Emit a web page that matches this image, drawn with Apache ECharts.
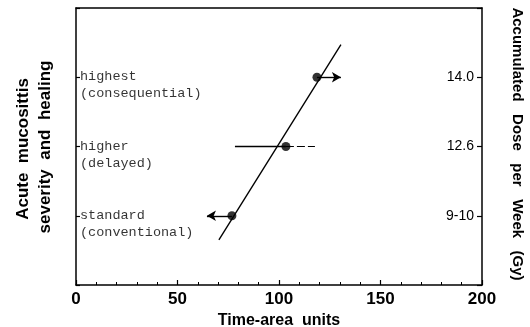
<!DOCTYPE html>
<html><head><meta charset="utf-8">
<script src="https://cdn.jsdelivr.net/npm/echarts@6/dist/echarts.min.js"></script>
<style>html,body{margin:0;padding:0;background:#fff}#c{width:530px;height:327px}</style>
</head><body><div id="c"></div>
<script>
// Severity levels (y position 1..3) and their labels
var levels = [1, 2, 3];
var leftLabels = ['standard\n(conventional)', 'higher\n(delayed)', 'highest\n(consequential)'];
var rightLabels = ['9-10', '12.6', '14.0'];
var xTicks = [0, 50, 100, 150, 200];
// Data points: time-area units at each level
var pointX = [76.8, 103.4, 118.7];
// Error bar / arrow extents
var standardArrowTo = 64.5;
var higherBarLow = 78.3;
var higherBarHigh = 117.7;
var highestArrowTo = 130.5;
// Fitted line endpoints [x, level]
var fitLine = [[70.4, 0.65], [130.5, 3.47]];

var chart = echarts.init(document.getElementById('c'));
var mono = 'Liberation Mono';
var lvlMap = {};
levels.forEach(function(l, i){ lvlMap[l] = i; });
var lineSt = {color: '#000', width: 1.4, type: 'solid'};

chart.setOption({
  animation: false,
  grid: {left: 76, right: 48, top: 8, bottom: 42, outerBoundsMode: 'none', containLabel: false},
  xAxis: [{
    type: 'value', min: 0, max: 200, interval: 50,
    axisLine: {onZero: false, lineStyle: {color: '#000', width: 1.5}},
    axisTick: {inside: true, length: 5, lineStyle: {color: '#000', width: 1.2}},
    minorTick: {show: true, splitNumber: 5, length: 3, lineStyle: {color: '#000'}},
    splitLine: {show: false},
    axisLabel: {color: '#000', fontFamily: 'Liberation Sans', fontWeight: 'bold', fontSize: 17, margin: 6,
      formatter: function(v){ return xTicks.indexOf(v) >= 0 ? String(v) : ''; }},
    name: 'Time-area  units', nameLocation: 'middle', nameGap: 28,
    nameTextStyle: {color: '#000', fontFamily: 'Liberation Sans', fontWeight: 'bold', fontSize: 16}
  }, {
    type: 'value', min: 0, max: 200, position: 'top',
    axisLine: {show: true, onZero: false, lineStyle: {color: '#000', width: 1.5}},
    axisTick: {show: false}, axisLabel: {show: false}, splitLine: {show: false}
  }],
  yAxis: [{
    type: 'value', min: 0, max: 4, interval: 1, position: 'left',
    axisLine: {show: true, onZero: false, lineStyle: {color: '#000', width: 1.5}},
    axisTick: {show: true, inside: true, length: 4, lineStyle: {color: '#000', width: 1.2}},
    axisLabel: {show: false}, splitLine: {show: false}
  }, {
    type: 'value', min: 0, max: 4, interval: 1, position: 'right',
    axisLine: {show: true, onZero: false, lineStyle: {color: '#000', width: 1.5}},
    axisTick: {show: true, inside: true, length: 5, lineStyle: {color: '#000', width: 1.2}},
    axisLabel: {inside: true, margin: 8, color: '#000', fontFamily: 'Liberation Sans', fontSize: 14,
      formatter: function(v){ return lvlMap[v] !== undefined ? rightLabels[lvlMap[v]] : ''; }},
    splitLine: {show: false}
  }],
  graphic: [
    {type: 'text', x: 23, y: 149, rotation: Math.PI/2,
      style: {text: 'Acute  mucosittis', font: 'bold 17px "Liberation Sans"', fill: '#000', textAlign: 'center', textVerticalAlign: 'middle'}},
    {type: 'text', x: 45, y: 147, rotation: Math.PI/2,
      style: {text: 'severity  and  healing', font: 'bold 17px "Liberation Sans"', fill: '#000', textAlign: 'center', textVerticalAlign: 'middle'}},
    {type: 'text', x: 517, y: 144, rotation: -Math.PI/2,
      style: {text: 'Accumulated   Dose   per   Week   (Gy)', font: 'bold 15px "Liberation Sans"', fill: '#000', textAlign: 'center', textVerticalAlign: 'middle'}}
  ],
  series: [
    {type: 'scatter', symbolSize: 0, silent: true,
      data: levels.map(function(l, i){ return {value: [0, l], label: {formatter: leftLabels[i]}}; }),
      label: {show: true, position: 'right', distance: 4, offset: [0, 8], color: '#000',
        fontFamily: mono, fontSize: 13.5, lineHeight: 17, align: 'left'}},
    {type: 'line', data: fitLine, symbol: 'none', lineStyle: {color: '#000', width: 1.4}},
    {type: 'line', data: [[pointX[1], levels[1]], [higherBarHigh, levels[1]]], symbol: 'none',
      lineStyle: {color: '#000', width: 1.2, type: [8, 3]}},
    {type: 'scatter', data: pointX.map(function(x, i){ return [x, levels[i]]; }), symbolSize: 9, itemStyle: {color: '#000'},
      markLine: {silent: true, animation: false, label: {show: false}, lineStyle: lineSt,
        symbol: ['none', 'arrow'], symbolSize: [8, 9],
        data: [
          [{coord: [pointX[0], levels[0]]}, {coord: [standardArrowTo, levels[0]]}],
          [{coord: [pointX[2], levels[2]]}, {coord: [highestArrowTo, levels[2]]}],
          [{coord: [higherBarLow, levels[1]], symbol: 'none'}, {coord: [pointX[1], levels[1]], symbol: 'none'}]
        ]}}
  ]
});
</script></body></html>
